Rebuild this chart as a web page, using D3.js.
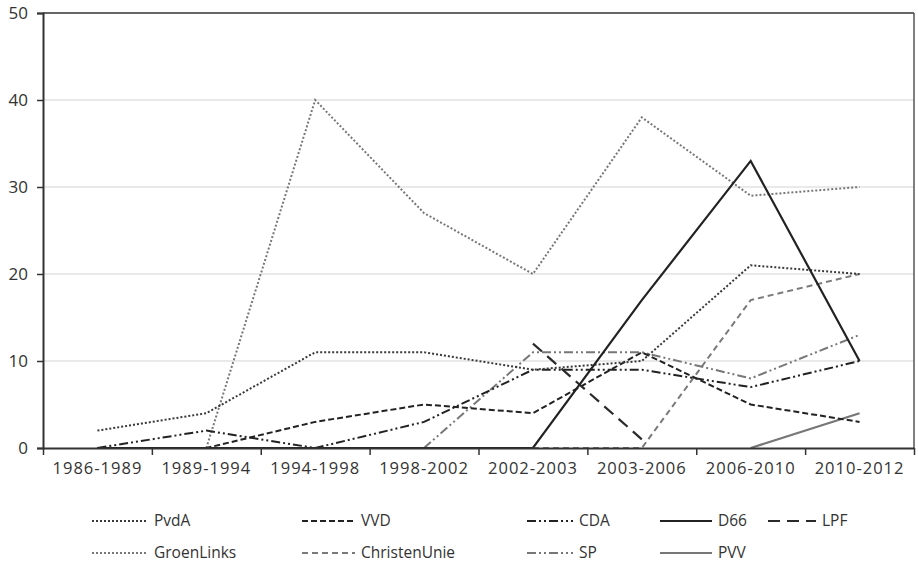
<!DOCTYPE html>
<html>
<head>
<meta charset="utf-8">
<script src="https://cdn.jsdelivr.net/npm/d3@7"></script>
<style>
    body { margin: 0; background: #fff; }
    text { font-family: "Open Sans", sans-serif; fill: #333; }
</style>
</head>
<body>
<script>
// periods on the x axis
var categories = ["1986-1989", "1989-1994", "1994-1998", "1998-2002", "2002-2003", "2003-2006", "2006-2010", "2010-2012"];
var yTicks = [0, 10, 20, 30, 40, 50];

// values per party (null = not present)
var pvda = [2, 4, 11, 11, 9, 10, 21, 20];
var vvd = [0, 0, 3, 5, 4, 11, 5, 3];
var cda = [0, 2, 0, 3, 9, 9, 7, 10];
var d66 = [0, 0, 0, 0, 0, 17, 33, 10];
var lpf = [null, null, null, null, 12, 1, null, null];
var groenlinks = [null, 0, 40, 27, 20, 38, 29, 30];
var christenunie = [null, null, null, null, 0, 0, 17, 20];
var sp = [null, null, null, 0, 11, 11, 8, 13];
var pvv = [null, null, null, null, null, null, 0, 4];

var width = 918,
    height = 568,
    plotLeft = 43,
    plotRight = 914,
    plotTop = 13,
    plotBottom = 448;

var series = [
    { name: "PvdA", values: pvda, color: "#3a3a3a", dash: "2,2", w: 2, row: 0, col: 0 },
    { name: "VVD", values: vvd, color: "#222", dash: "6,3", w: 2, row: 0, col: 1 },
    { name: "CDA", values: cda, color: "#222", dash: "9,3,2,3,2,3", w: 2, row: 0, col: 2 },
    { name: "D66", values: d66, color: "#222", dash: null, w: 2.2, row: 0, col: 3 },
    { name: "LPF", values: lpf, color: "#2a2a2a", dash: "12,7", w: 2.2, row: 0, col: 4 },
    { name: "GroenLinks", values: groenlinks, color: "#777", dash: "2,2", w: 2, row: 1, col: 0 },
    { name: "ChristenUnie", values: christenunie, color: "#7a7a7a", dash: "6,4", w: 2, row: 1, col: 1 },
    { name: "SP", values: sp, color: "#777", dash: "9,3,2,3,2,3", w: 2, row: 1, col: 2 },
    { name: "PVV", values: pvv, color: "#777", dash: null, w: 2.2, row: 1, col: 3 }
];

var svg = d3.select("body").append("svg")
    .attr("width", width)
    .attr("height", height);

var x = d3.scaleBand()
    .domain(categories)
    .range([plotLeft, plotRight])
    .padding(0);

var xEdge = d3.scaleLinear()
    .domain([0, categories.length])
    .range([plotLeft, plotRight]);

var y = d3.scaleLinear()
    .domain([0, 50])
    .range([plotBottom, plotTop]);

// gridlines
svg.append("g")
    .selectAll("line")
    .data(yTicks.filter(function (d) { return d > 0 && d < 50; }))
    .enter().append("line")
    .attr("x1", plotLeft).attr("x2", plotRight)
    .attr("y1", function (d) { return y(d); })
    .attr("y2", function (d) { return y(d); })
    .style("stroke", "#d4d4d4")
    .style("stroke-width", 1.2);

// frame top and right
svg.append("line")
    .attr("x1", plotLeft).attr("x2", plotRight)
    .attr("y1", y(50)).attr("y2", y(50))
    .style("stroke", "#333").style("stroke-width", 1.5);
svg.append("line")
    .attr("x1", plotRight).attr("x2", plotRight)
    .attr("y1", y(50)).attr("y2", y(0))
    .style("stroke", "#555").style("stroke-width", 1.5);

var line = d3.line()
    .defined(function (d) { return d != null; })
    .x(function (d, i) { return x(categories[i]) + x.bandwidth() / 2; })
    .y(function (d) { return y(d); });

// draw grey ones first, dark on top
var drawOrder = [5, 6, 7, 8, 1, 2, 4, 0, 3];
svg.append("g")
    .selectAll("path")
    .data(drawOrder.map(function (i) { return series[i]; }))
    .enter().append("path")
    .attr("d", function (d) { return line(d.values); })
    .style("fill", "none")
    .style("stroke", function (d) { return d.color; })
    .style("stroke-width", function (d) { return d.w; })
    .style("stroke-dasharray", function (d) { return d.dash; });

// x axis: ticks at band edges, labels at centers
var xAxisTicks = svg.append("g")
    .attr("transform", "translate(0," + plotBottom + ")")
    .call(d3.axisBottom(xEdge)
        .tickValues(d3.range(categories.length + 1))
        .tickFormat("")
        .tickSize(7)
        .tickSizeOuter(0));
xAxisTicks.select(".domain").style("stroke", "#333").style("stroke-width", 2);
xAxisTicks.selectAll(".tick line").style("stroke", "#333").style("stroke-width", 1.5);

var xAxisLabels = svg.append("g")
    .attr("transform", "translate(0," + plotBottom + ")")
    .call(d3.axisBottom(x).tickSize(0).tickPadding(14));
xAxisLabels.select(".domain").remove();
xAxisLabels.selectAll("text")
    .style("font-family", "'Open Sans', sans-serif")
    .style("font-size", "16.5px")
    .style("letter-spacing", "1px")
    .style("fill", "#333");

var yAxis = svg.append("g")
    .attr("transform", "translate(" + plotLeft + ",0)")
    .call(d3.axisLeft(y).tickValues(yTicks).tickSize(6).tickPadding(9));
yAxis.select(".domain").style("stroke", "#333").style("stroke-width", 2);
yAxis.selectAll(".tick line").style("stroke", "#333").style("stroke-width", 1.5);
yAxis.selectAll("text")
    .style("font-family", "'Open Sans', sans-serif")
    .style("font-size", "17px")
    .style("fill", "#333");

// legend
var colX = [92, 302, 527, 660, 768];
var colLen = [56, 53, 46, 52, 48];
var rowY = [521, 553];

var legend = svg.append("g")
    .selectAll("g")
    .data(series)
    .enter().append("g")
    .attr("transform", function (d) { return "translate(" + colX[d.col] + "," + rowY[d.row] + ")"; });

legend.append("line")
    .attr("x1", 0)
    .attr("x2", function (d) { return colLen[d.col]; })
    .style("stroke", function (d) { return d.color; })
    .style("stroke-width", function (d) { return d.w; })
    .style("stroke-dasharray", function (d) { return d.dash; });

legend.append("text")
    .attr("x", function (d) { return colLen[d.col] + 6; })
    .attr("dy", "0.35em")
    .style("font-size", "15.5px")
    .text(function (d) { return d.name; });
</script>
</body>
</html>
